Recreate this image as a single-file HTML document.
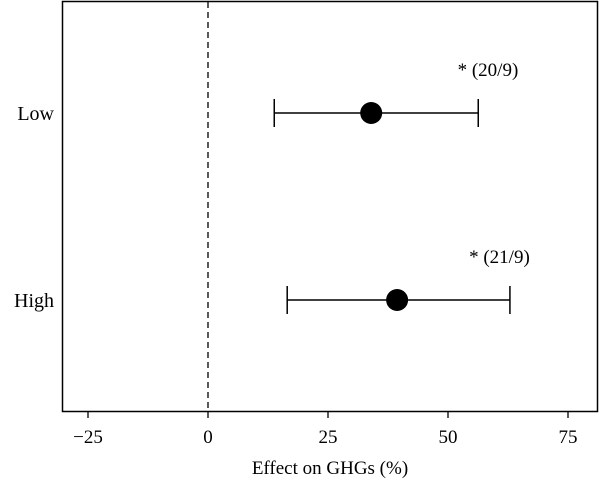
<!DOCTYPE html>
<html><head><meta charset="utf-8"><style>
body{margin:0;background:#fff;}
svg text{font-family:"Liberation Serif",serif;fill:#000;}
</style></head><body>
<svg width="600" height="482" viewBox="0 0 600 482">
<rect x="62.5" y="1.5" width="535" height="410" fill="none" stroke="#000" stroke-width="1.5"/>
</svg>
<script>
const categories=["Low","High"];
const estimates=[34,39.4];
const lowerCI=[13.8,16.5];
const upperCI=[56.3,62.9];
const annotations=["* (20/9)","* (21/9)"];
const annotationX=[52,54.4];
const xTicks=[-25,0,25,50,75];
const xTickLabels=["\u221225","0","25","50","75"];
const ns="http://www.w3.org/2000/svg";
const svg=document.querySelector('svg');
function xs(v){return 208+v*4.8;}
function ys(i){return [113,300][i];}
function mk(tag,attrs,parent){const e=document.createElementNS(ns,tag);for(const k in attrs)e.setAttribute(k,attrs[k]);(parent||svg).appendChild(e);return e;}
let z=mk('line',{x1:xs(0),x2:xs(0),y1:2,y2:411,stroke:'#000','stroke-width':1.3,'stroke-dasharray':'6,4'});


xTicks.forEach((t,i)=>{
 let l=mk('line',{x1:xs(t),x2:xs(t),y1:412,y2:418,stroke:'#000','stroke-width':1.3});
 
 
 let tx=mk('text',{x:xs(t),y:443,'text-anchor':'middle','font-size':19});
 tx.textContent=xTickLabels[i];
 
 
});
let at=mk('text',{x:330,y:474,'text-anchor':'middle','font-size':19});
at.textContent="Effect on GHGs (%)";


categories.forEach((c,i)=>{
 const y=ys(i);
 let cl=mk('text',{x:54,y:y+7,'text-anchor':'end','font-size':20});
 cl.textContent=c;
 
 
 let g=mk('g',{});
 
 
 mk('line',{x1:xs(lowerCI[i]),x2:xs(upperCI[i]),y1:y,y2:y,stroke:'#000','stroke-width':1.5},g);
 mk('line',{x1:xs(lowerCI[i]),x2:xs(lowerCI[i]),y1:y-14,y2:y+14,stroke:'#000','stroke-width':1.5},g);
 mk('line',{x1:xs(upperCI[i]),x2:xs(upperCI[i]),y1:y-14,y2:y+14,stroke:'#000','stroke-width':1.5},g);
 mk('circle',{cx:xs(estimates[i]),cy:y,r:11,fill:'#000'},g);
 let an=mk('text',{x:xs(annotationX[i]),y:y-37,'font-size':19});
 an.textContent=annotations[i];
 
 
});
</script>
</body></html>
